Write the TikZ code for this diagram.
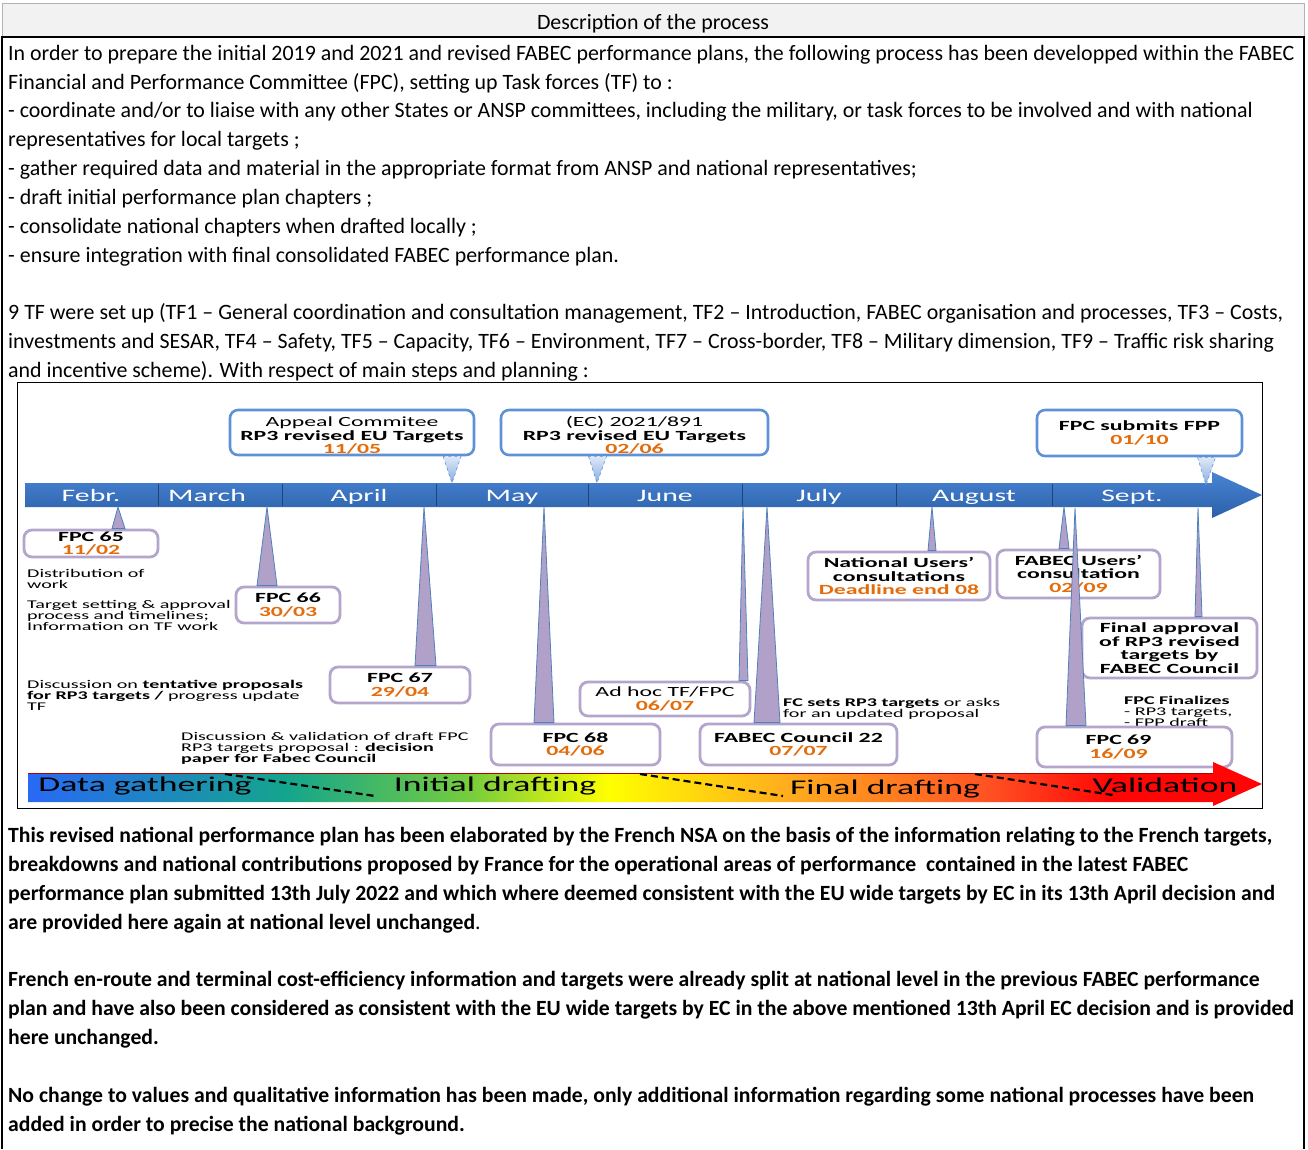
\documentclass[tikz,border=0pt]{standalone}
\usepackage{fontspec}
\setmainfont{Carlito}
\newfontfamily\wide{Carlito}[FakeStretch=1.7]
\usetikzlibrary{positioning,calc}
\definecolor{BarBlue}{RGB}{72,132,212}
\definecolor{BarDark}{RGB}{44,96,168}
\definecolor{CallBlue}{RGB}{95,145,215}
\definecolor{PinBlue}{RGB}{79,129,189}
\definecolor{BoxLilac}{RGB}{180,165,205}
\definecolor{PinLilac}{RGB}{177,160,199}
\definecolor{DateOrange}{RGB}{228,108,10}
\definecolor{HeadGray}{RGB}{242,242,242}
\definecolor{PhBlue}{RGB}{40,105,245}
\definecolor{PhTeal}{RGB}{20,165,140}
\definecolor{PhGreen}{RGB}{120,205,60}
\definecolor{PhYellow}{RGB}{255,255,0}
\definecolor{PhOrange}{RGB}{255,170,30}
\definecolor{PhRedish}{RGB}{255,80,35}
\definecolor{PhRed}{RGB}{255,5,5}
\pgfdeclarehorizontalshading{phases}{100bp}{color(0bp)=(PhBlue); color(25bp)=(PhBlue);
  color(35.5bp)=(PhTeal); color(43bp)=(PhGreen); color(48.5bp)=(PhYellow);
  color(56bp)=(PhOrange); color(64bp)=(PhRedish); color(69bp)=(PhRed);
  color(75bp)=(PhRed); color(100bp)=(PhRed)}
\newcommand\when[1]{\textcolor{DateOrange}{\bfseries #1}}
\tikzset{
  body/.style={inner sep=0pt,anchor=base west,font=\fontsize{21.9}{28.8}\selectfont},
  bodybold/.style={inner sep=0pt,anchor=base west,font=\fontsize{21.7}{28.8}\selectfont\bfseries},
  month/.style={inner sep=0pt,anchor=base,text=white,font=\wide\fontsize{17.5}{17.5}\selectfont},
  phase/.style={inner sep=0pt,anchor=base,font=\wide\fontsize{21}{21}\selectfont},
  note/.style={inner sep=0pt,anchor=north west,align=left,font=\wide\fontsize{11.8}{11}\selectfont},
  callout/.style={draw=CallBlue,line width=2.6pt,rounded corners=8pt,fill=white,
    align=center,inner sep=0pt,font=\wide\fontsize{14}{13.5}\selectfont},
  stepbox/.style={draw=BoxLilac,line width=2.8pt,rounded corners=8pt,fill=white,
    align=center,inner sep=0pt,font=\wide\fontsize{14}{13.5}\selectfont},
  pin/.style={draw=PinBlue,line width=0.8pt,fill=PinLilac},
  dpin/.style={draw=CallBlue,dashed,line width=0.6pt,top color=CallBlue!20,bottom color=CallBlue!75},
  split/.style={draw=black,line width=2.2pt,dash pattern=on 7pt off 4pt},
}

\begin{document}
\begin{tikzpicture}[x=1pt,y=-1pt]
\useasboundingbox (0,0) rectangle (1308,1149);
% table frame
\draw[gray!60,fill=HeadGray] (2,3) rectangle (1304,37);
\draw[line width=1.2pt] (2,1149) -- (2,37) -- (1304,37) -- (1304,1149);
\node[body,anchor=base] (head) at (653,29) {Description of the process};

% text above the plan
\node[body] (t1) at (8,60) {In order to prepare the initial 2019 and 2021 and revised FABEC performance plans, the following process has been developped within the FABEC};
\node[body] (t2) at (8,89) {Financial and Performance Committee (FPC), setting up Task forces (TF) to :};
\node[body] (t3) at (8,117.5) {- coordinate and/or to liaise with any other States or ANSP committees, including the military, or task forces to be involved and with national};
\node[body] (t4) at (8,146.5) {representatives for local targets ;};
\node[body] (t5) at (8,175.5) {- gather required data and material in the appropriate format from ANSP and national representatives;};
\node[body] (t6) at (8,204) {- draft initial performance plan chapters ;};
\node[body] (t7) at (8,233) {- consolidate national chapters when drafted locally ;};
\node[body] (t8) at (8,262) {- ensure integration with final consolidated FABEC performance plan.};
\node[body] (t9) at (8,319) {9 TF were set up (TF1 – General coordination and consultation management, TF2 – Introduction, FABEC organisation and processes, TF3 – Costs,};
\node[body] (t10) at (8,348) {investments and SESAR, TF4 – Safety, TF5 – Capacity, TF6 – Environment, TF7 – Cross-border, TF8 – Military dimension, TF9 – Traffic risk sharing};
\node[body] (t11) at (8,377) {and incentive scheme). With respect of main steps and planning :};

% plan frame
\draw[line width=1pt] (17,382) rectangle (1262,808);

% months arrow
\shade[top color=BarBlue,bottom color=BarDark] (25,483) -- (1212,483) -- (1212,472) -- (1262,495)
  -- (1212,518) -- (1212,507) -- (25,507) -- cycle;
\draw[BarDark!70!black,line width=0.8pt] (158,484) -- (158,506);
\draw[BarDark!70!black,line width=0.8pt] (282,484) -- (282,506);
\draw[BarDark!70!black,line width=0.8pt] (436,484) -- (436,506);
\draw[BarDark!70!black,line width=0.8pt] (588,484) -- (588,506);
\draw[BarDark!70!black,line width=0.8pt] (742,484) -- (742,506);
\draw[BarDark!70!black,line width=0.8pt] (896,484) -- (896,506);
\draw[BarDark!70!black,line width=0.8pt] (1052,484) -- (1052,506);
\node[month] (feb) at (91,501.5) {Febr.};
\node[month] (mar) at (207,501.5) {March};
\node[month] (apr) at (359,501.5) {April};
\node[month] (may) at (512,501.5) {May};
\node[month] (jun) at (665,501.5) {June};
\node[month] (jul) at (819,501.5) {July};
\node[month] (aug) at (974,501.5) {August};
\node[month] (sep) at (1132,501.5) {Sept.};

% EU milestones above the arrow
\coordinate (kApp) at (452,483);
\coordinate (kEc) at (597,483);
\coordinate (kSub) at (1206,485);
\node[callout,minimum width=244pt,minimum height=45pt] (appeal) at (352,432.5)
  {\rule{0pt}{16pt}Appeal Commitee\\\textbf{RP3 revised EU Targets}\\\when{11/05}};
\node[callout,minimum width=267pt,minimum height=45pt] (ecreg) at (634.5,432.5)
  {\rule{0pt}{16pt}(EC) 2021/891\\\textbf{RP3 revised EU Targets}\\\when{02/06}};
\node[callout,minimum width=205pt,minimum height=46pt] (submit) at (1139.5,433)
  {\textbf{FPC submits FPP}\\\when{01/10}};
\path[dpin] ($(appeal.south)+(91,0)$) -- (kApp) -- ($(appeal.south)+(109,0)$) -- cycle;
\path[dpin] ($(ecreg.south)+(-46,0)$) -- (kEc) -- ($(ecreg.south)+(-28,0)$) -- cycle;
\path[dpin] ($(submit.south)+(58,0)$) -- (kSub) -- ($(submit.south)+(76,0)$) -- cycle;

% what happens at each step
\node[note] (dist) at (27,569) {Distribution of\\work};
\node[note] (setting) at (27,600) {Target setting \& approval\\process and timelines;\\Information on TF work};
\node[note] (tentative) at (27,680) {Discussion on \textbf{tentative proposals}\\\textbf{for RP3 targets /} progress update\\TF};
\node[note] (validate) at (181,732) {Discussion \& validation of draft FPC\\RP3 targets proposal : \textbf{decision}\\\textbf{paper for Fabec Council}};
\node[note] (fcsets) at (783,698) {\textbf{FC sets RP3 targets} or asks\\for an updated proposal};
\node[note] (finalize) at (1124,696) {\textbf{FPC Finalizes}\\- RP3 targets,\\- FPP draft};

% meetings below the arrow
\node[stepbox,minimum width=134pt,minimum height=27pt] (fpc65) at (91,543.5) {\textbf{FPC 65}\\\when{11/02}};
\node[stepbox,minimum width=104pt,minimum height=36pt] (fpc66) at (288,605) {\textbf{FPC 66}\\\when{30/03}};
\node[stepbox,minimum width=140pt,minimum height=36pt] (fpc67) at (400,685) {\textbf{FPC 67}\\\when{29/04}};
\node[stepbox,minimum width=169pt,minimum height=41pt] (fpc68) at (575.5,744.5) {\textbf{FPC 68}\\\when{04/06}};
\node[stepbox,minimum width=170pt,minimum height=34pt] (adhoc) at (665,699) {Ad hoc TF/FPC\\\when{06/07}};
\node[stepbox,minimum width=197pt,minimum height=41pt] (council) at (798.5,744.5) {\textbf{FABEC Council 22}\\\when{07/07}};
\node[stepbox,minimum width=182pt,minimum height=48pt] (natusers) at (899,576) {\textbf{National Users’}\\\textbf{consultations}\\\when{Deadline end 08}};
\node[stepbox,minimum width=163pt,minimum height=48pt] (fabusers) at (1078.5,574) {\textbf{FABEC Users’}\\\textbf{consultation}\\\when{02/09}};
\node[stepbox,minimum width=175pt,minimum height=60pt] (approval) at (1169.5,648) {\textbf{Final approval}\\\textbf{of RP3 revised}\\\textbf{targets by}\\\textbf{FABEC Council}};
\node[stepbox,minimum width=195pt,minimum height=40pt] (fpc69) at (1134.5,747) {\textbf{FPC 69}\hspace*{32pt}\\\when{16/09}\hspace*{32pt}};

\coordinate (k65) at (118,507);
\coordinate (k66) at (267,507);
\coordinate (k67) at (424,507);
\coordinate (k68) at (544,507);
\coordinate (kAdh) at (743,507);
\coordinate (kCou) at (767,507);
\coordinate (kNat) at (932,507);
\coordinate (kFab) at (1064,507);
\coordinate (kFin) at (1198,508);
\coordinate (k69) at (1075,508);
\path[pin] (k65) -- ($(fpc65.north)+(34,0)$) -- ($(fpc65.north)+(21,0)$) -- cycle;
\path[pin] (k66) -- ($(fpc66.north)+(-11,0)$) -- ($(fpc66.north)+(-31,0)$) -- cycle;
\path[pin] (k67) -- ($(fpc67.north)+(36,0)$) -- ($(fpc67.north)+(15,0)$) -- cycle;
\path[pin] (k68) -- ($(fpc68.north)+(-21.5,0)$) -- ($(fpc68.north)+(-41.5,0)$) -- cycle;
\path[pin] (kAdh) -- ($(adhoc.north)+(83,0)$) -- ($(adhoc.north)+(74,0)$) -- cycle;
\path[pin] (kCou) -- ($(council.north)+(-18.5,0)$) -- ($(council.north)+(-44.5,0)$) -- cycle;
\path[pin] (kNat) -- ($(natusers.north)+(37,0)$) -- ($(natusers.north)+(29,0)$) -- cycle;
\path[pin] (kFab) -- ($(fabusers.north)+(-9.5,0)$) -- ($(fabusers.north)+(-19.5,0)$) -- cycle;
\path[pin] (kFin) -- ($(approval.north)+(32.5,0)$) -- ($(approval.north)+(25.5,0)$) -- cycle;
\path[pin] (k69) -- ($(fpc69.north)+(-48.5,0)$) -- ($(fpc69.north)+(-68.5,0)$) -- cycle;

% phases arrow
\shade[shading=phases] (28,773) -- (1213,773) -- (1213,762) -- (1262,784) -- (1213,806)
  -- (1213,802) -- (28,802) -- cycle;
\draw[red!70!black,line width=0.8pt] (28,773) -- (1213,773);
\node[phase] (gather) at (145,791) {Data gathering};
\node[phase] (initial) at (495,791) {Initial drafting};
\node[phase] (final) at (885,794) {Final drafting};
\node[phase] (valid) at (1165,792) {Validation};
\coordinate (s1a) at (225,774);
\coordinate (s1b) at (375,796);
\coordinate (s2a) at (640,774);
\coordinate (s2b) at (783,796);
\coordinate (s3a) at (975,774);
\coordinate (s3b) at (1113,795);
\draw[split] (s1a) -- (s1b);
\draw[split] (s2a) -- (s2b);
\draw[split] (s3a) -- (s3b);

% text below the plan
\node[bodybold] (b1) at (8,842) {This revised national performance plan has been elaborated by the French NSA on the basis of the information relating to the French targets,};
\node[bodybold] (b2) at (8,871) {breakdowns and national contributions proposed by France for the operational areas of performance\ \ contained in the latest FABEC};
\node[bodybold] (b3) at (8,900) {performance plan submitted 13th July 2022 and which where deemed consistent with the EU wide targets by EC in its 13th April decision and};
\node[bodybold] (b4) at (8,929) {are provided here again at national level unchanged\mdseries.};
\node[bodybold] (b5) at (8,986) {French en-route and terminal cost-efficiency information and targets were already split at national level in the previous FABEC performance};
\node[bodybold] (b6) at (8,1015) {plan and have also been considered as consistent with the EU wide targets by EC in the above mentioned 13th April EC decision and is provided};
\node[bodybold] (b7) at (8,1044) {here unchanged.};
\node[bodybold] (b8) at (8,1102) {No change to values and qualitative information has been made, only additional information regarding some national processes have been};
\node[bodybold] (b9) at (8,1131) {added in order to precise the national background.};
\end{tikzpicture}
\end{document}
